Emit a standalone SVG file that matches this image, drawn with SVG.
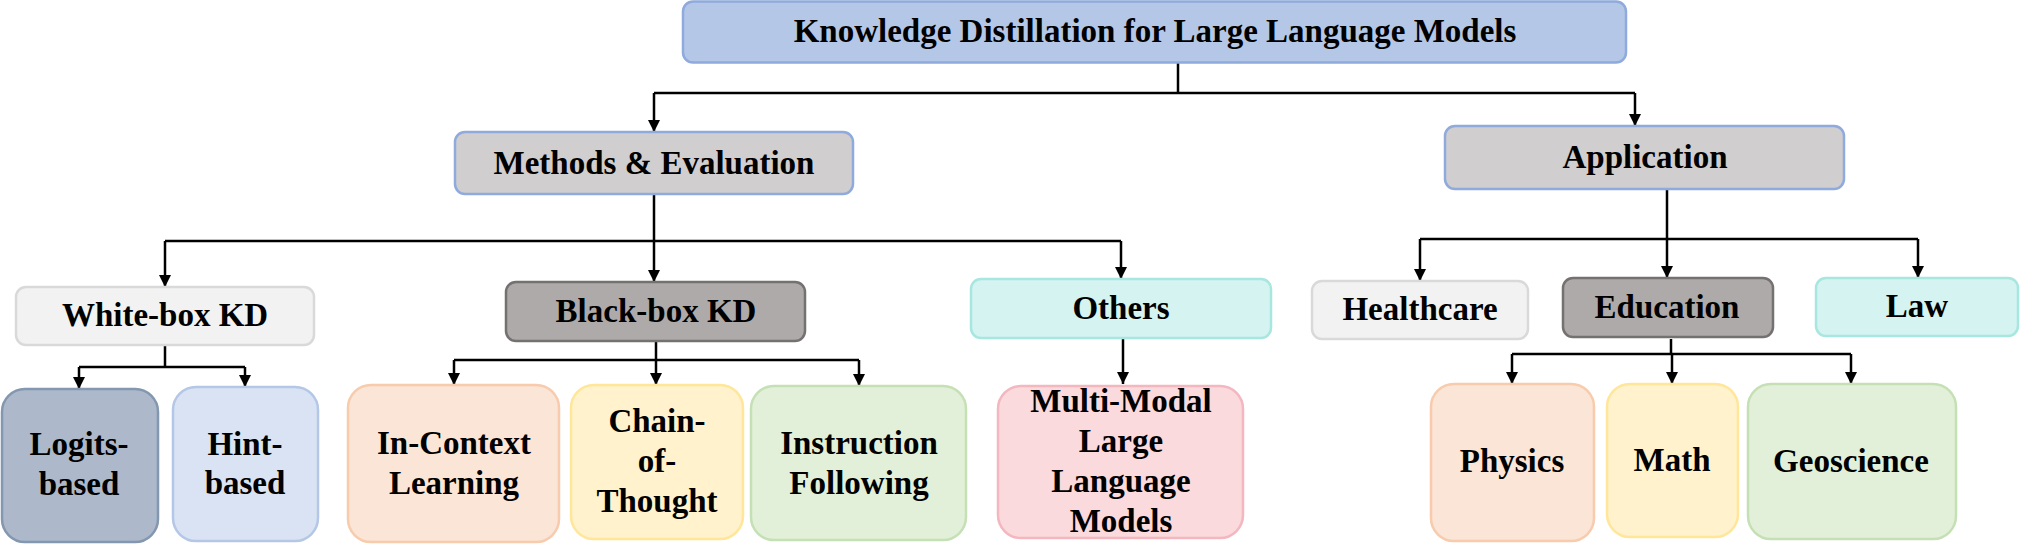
<svg xmlns="http://www.w3.org/2000/svg" width="2020" height="544" viewBox="0 0 2020 544">
<defs>
<marker id="arr" viewBox="0 0 12 12" refX="12" refY="6" markerWidth="12" markerHeight="12" markerUnits="userSpaceOnUse" orient="auto">
<path d="M0,0 L12,6 L0,12 Z" fill="#000"/>
</marker>
<style>
text{font-family:"Liberation Serif","Times New Roman",serif;font-weight:bold;font-size:33px;fill:#000;text-anchor:middle}
.box{stroke-width:2.5}
.c{fill:none;stroke:#000;stroke-width:2.5}
.a{fill:none;stroke:#000;stroke-width:2.5;marker-end:url(#arr)}
.blue{fill:#B4C7E7;stroke:#8FAADC}
.grey{fill:#D0CECE;stroke:#8FAADC}
.light{fill:#F2F2F2;stroke:#D9D9D9}
.dark{fill:#AEAAAA;stroke:#767171}
.cyan{fill:#D5F3F1;stroke:#A8E6E0}
.slate{fill:#ADB9CA;stroke:#8497B0}
.pale{fill:#DAE3F3;stroke:#B4C7E7}
.orange{fill:#FBE5D6;stroke:#F8CBAD}
.yellow{fill:#FFF2CC;stroke:#FFE699}
.green{fill:#E2F0D9;stroke:#C5E0B4}
.pink{fill:#FADADD;stroke:#F4B6BF}
</style>
</defs>
<g id="connectors">
<path class="c" d="M1178,63 L1178,93"/>
<path class="a" d="M654,93 L1635,93 M654,93 L654,132"/>
<path class="a" d="M1635,93 L1635,126"/>
<path class="c" d="M654,194 L654,241 M165,241 L1121,241"/>
<path class="a" d="M165,241 L165,287"/>
<path class="a" d="M654,241 L654,282"/>
<path class="a" d="M1121,241 L1121,279"/>
<path class="c" d="M1667,189 L1667,239 M1420,239 L1918,239"/>
<path class="a" d="M1420,239 L1420,281"/>
<path class="a" d="M1667,239 L1667,278"/>
<path class="a" d="M1918,239 L1918,278"/>
<path class="c" d="M165,345 L165,367 M79,367 L245,367"/>
<path class="a" d="M79,367 L79,389"/>
<path class="a" d="M245,367 L245,387"/>
<path class="c" d="M656,341 L656,360 M454,360 L859,360"/>
<path class="a" d="M454,360 L454,385"/>
<path class="a" d="M656,360 L656,385"/>
<path class="a" d="M859,360 L859,386"/>
<path class="a" d="M1123,338 L1123,384"/>
<path class="c" d="M1671,339 L1671,354 M1512,354 L1851,354"/>
<path class="a" d="M1512,354 L1512,384"/>
<path class="a" d="M1672,354 L1672,384"/>
<path class="a" d="M1851,354 L1851,384"/>
</g>
<g id="root"><rect class="box blue" x="683" y="1.5" width="943" height="61" rx="10"/><text x="1155" y="42">Knowledge Distillation for Large Language Models</text></g>
<g id="methods"><rect class="box grey" x="455" y="132" width="398" height="62" rx="10"/><text x="654" y="174">Methods &amp; Evaluation</text></g>
<g id="application"><rect class="box grey" x="1445" y="126" width="399" height="63" rx="10"/><text x="1645" y="168">Application</text></g>
<g id="whitebox"><rect class="box light" x="16" y="287" width="298" height="58" rx="10"/><text x="165" y="326">White-box KD</text></g>
<g id="blackbox"><rect class="box dark" x="506" y="282" width="299" height="59" rx="10"/><text x="656" y="322">Black-box KD</text></g>
<g id="others"><rect class="box cyan" x="971" y="279" width="300" height="59" rx="10"/><text x="1121" y="319">Others</text></g>
<g id="healthcare"><rect class="box light" x="1312" y="281" width="216" height="58" rx="10"/><text x="1420" y="320">Healthcare</text></g>
<g id="education"><rect class="box dark" x="1563" y="278" width="210" height="59" rx="10"/><text x="1667" y="318">Education</text></g>
<g id="law"><rect class="box cyan" x="1816" y="278" width="202" height="58" rx="10"/><text x="1917" y="317">Law</text></g>
<g id="logits"><rect class="box slate" x="2" y="389" width="156" height="153" rx="23"/><text x="79" y="455">Logits-</text><text x="79" y="495">based</text></g>
<g id="hint"><rect class="box pale" x="173" y="387" width="145" height="154" rx="23"/><text x="245" y="455">Hint-</text><text x="245" y="494">based</text></g>
<g id="icl"><rect class="box orange" x="348" y="385" width="211" height="157" rx="23"/><text x="454" y="454">In-Context</text><text x="454" y="494">Learning</text></g>
<g id="cot"><rect class="box yellow" x="571" y="385" width="172" height="154" rx="23"/><text x="657" y="432">Chain-</text><text x="657" y="472">of-</text><text x="657" y="512">Thought</text></g>
<g id="instruction"><rect class="box green" x="751" y="386" width="215" height="154" rx="23"/><text x="859" y="454">Instruction</text><text x="859" y="494">Following</text></g>
<g id="mllm"><rect class="box pink" x="998" y="386" width="245" height="152" rx="23"/><text x="1121" y="412">Multi-Modal</text><text x="1121" y="452">Large</text><text x="1121" y="492">Language</text><text x="1121" y="532">Models</text></g>
<g id="physics"><rect class="box orange" x="1431" y="384" width="163" height="157" rx="23"/><text x="1512" y="472">Physics</text></g>
<g id="math"><rect class="box yellow" x="1607" y="384" width="131" height="153" rx="23"/><text x="1672" y="471">Math</text></g>
<g id="geoscience"><rect class="box green" x="1748" y="384" width="208" height="155" rx="23"/><text x="1851" y="472">Geoscience</text></g>
</svg>
